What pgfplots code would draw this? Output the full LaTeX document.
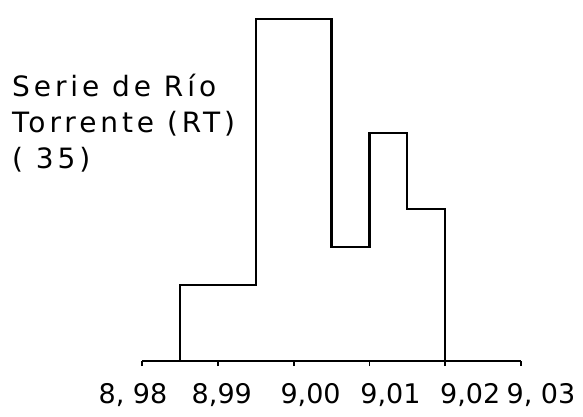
\documentclass[border=0pt]{standalone}
\usepackage{fontspec}
\setmainfont{DejaVu Sans}
\usepackage{pgfplots}
\pgfplotsset{compat=1.18}
\newcommand{\lb}[2]{\hspace*{#1}#2}
\begin{document}
\begin{tikzpicture}[x=1bp,y=1bp]
\path[use as bounding box] (0,0) rectangle (583,416);
\begin{axis}[
  at={(142bp,55bp)}, anchor=south west,
  scale only axis,
  width=379bp, height=361bp,
  xmin=8.98, xmax=9.03,
  ymin=0, ymax=9.5,
  axis x line=bottom, axis y line=none,
  axis line style={-, line width=2bp},
  xtick={8.98,8.99,9.00,9.01,9.02,9.03},
  xticklabels={{\lb{-18bp}{8, 98}},{\lb{8bp}{8,99}},{\lb{34bp}{9,00}},{\lb{42bp}{9,01}},{\lb{50bp}{9,02}},{\lb{40bp}{9, 03}}},
  tick align=outside,
  major tick length=5bp,
  tick style={line width=1.8bp, black},
  xticklabel style={font=\fontsize{27bp}{32bp}\selectfont, anchor=north, yshift=-14bp},
  /pgf/number format/assume math mode=true,
  clip=false,
]
\addplot[const plot mark left, black, line width=2.2bp, mark=none] coordinates {
  (8.985,0) (8.985,2) (8.995,9) (9.005,3) (9.010,6) (9.015,4) (9.020,4) (9.020,0)
};
\end{axis}
\begin{scope}[every node/.style={anchor=base west, inner sep=0pt, font=\fontsize{28bp}{32bp}\selectfont\addfontfeatures{LetterSpace=14}}]
\node at (12,320) {Serie de Río};
\node at (12,284) {Torrente (RT)};
\node at (12,248) {( 35)};
\end{scope}
\end{tikzpicture}
\end{document}
